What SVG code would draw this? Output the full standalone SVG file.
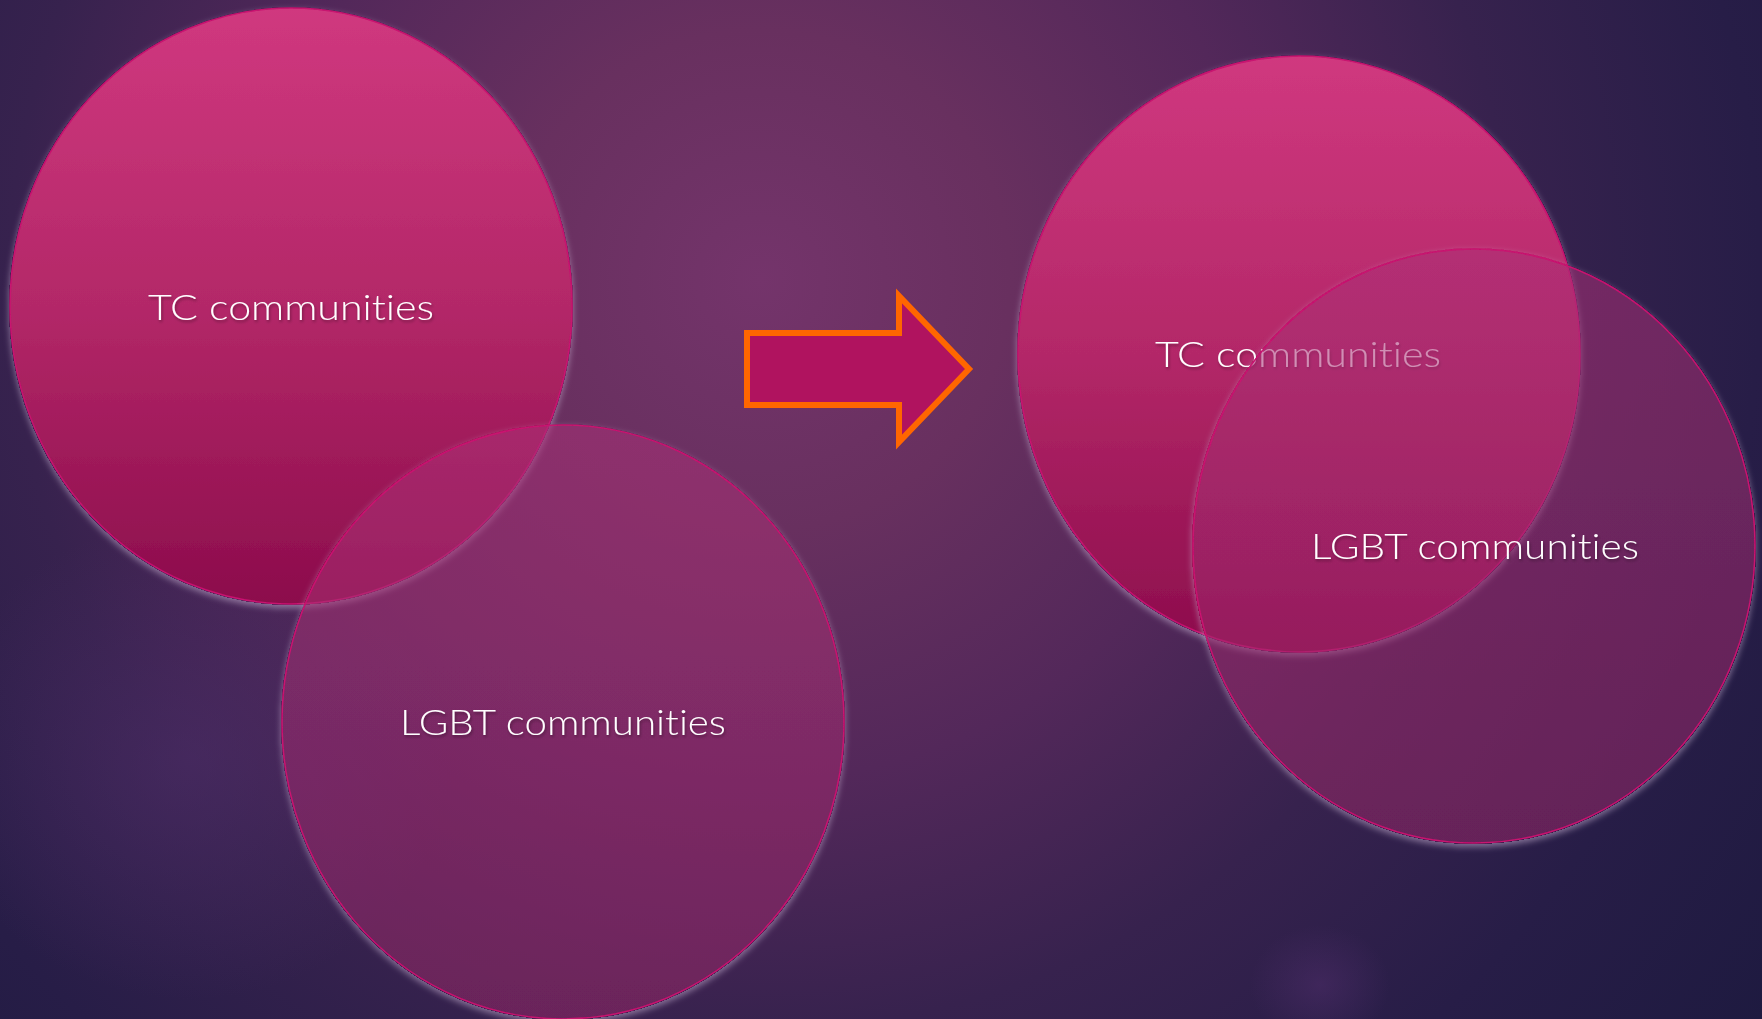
<svg xmlns="http://www.w3.org/2000/svg" width="1762" height="1019" viewBox="0 0 1762 1019">
  <defs>
    <radialGradient id="bg" gradientUnits="userSpaceOnUse" cx="760" cy="280" r="1250">
      <stop offset="0" stop-color="#74346B"/>
      <stop offset="0.2" stop-color="#68305F"/>
      <stop offset="0.4" stop-color="#53285A"/>
      <stop offset="0.6" stop-color="#37224E"/>
      <stop offset="0.8" stop-color="#271D47"/>
      <stop offset="1" stop-color="#1E1A40"/>
    </radialGradient>
    <radialGradient id="bokeh">
      <stop offset="0" stop-color="#553070" stop-opacity="0.45"/>
      <stop offset="1" stop-color="#553070" stop-opacity="0"/>
    </radialGradient>
    <linearGradient id="tcFill" x1="0" y1="0" x2="0" y2="1">
      <stop offset="0" stop-color="#D0387F"/>
      <stop offset="0.5" stop-color="#B32868"/>
      <stop offset="1" stop-color="#8C0C4C"/>
    </linearGradient>
    <linearGradient id="lgbtFill" x1="0" y1="0" x2="0" y2="1">
      <stop offset="0" stop-color="#AC3278"/>
      <stop offset="1" stop-color="#962466"/>
    </linearGradient>
    <!-- light halo around the discs, kept outside the shape and weighted downward -->
    <filter id="halo" x="-10%" y="-10%" width="120%" height="120%">
      <feColorMatrix in="SourceAlpha" type="matrix" values="0 0 0 0 0  0 0 0 0 0  0 0 0 0 0  0 0 0 20 0" result="solid"/>
      <feGaussianBlur in="solid" stdDeviation="3"/>
      <feOffset dy="3" result="blur"/>
      <feFlood flood-color="#C9B3D3" flood-opacity="0.55"/>
      <feComposite in2="blur" operator="in"/>
      <feComposite in2="solid" operator="out" result="ring"/>
      <feMerge>
        <feMergeNode in="ring"/>
        <feMergeNode in="SourceGraphic"/>
      </feMerge>
    </filter>
    <filter id="textShadow" x="-10%" y="-30%" width="120%" height="160%">
      <feDropShadow dx="1" dy="2" stdDeviation="1.5" flood-color="#000000" flood-opacity="0.35"/>
    </filter>
  </defs>
  <style>
    .tc { fill: url(#tcFill); stroke: #C8126F; stroke-width: 1.6; filter: url(#halo); }
    .lgbt { fill: url(#lgbtFill); fill-opacity: 0.54; stroke: #C8126F; stroke-width: 1.6; filter: url(#halo); }
    .label { font-family: "Lato", "Liberation Sans", sans-serif; font-weight: 300; font-size: 36px; fill: #FFFFFF; text-anchor: middle; font-variant-ligatures: none; filter: url(#textShadow); }
    .arrow { fill: #B0135F; stroke: #FF6600; stroke-width: 6; stroke-linejoin: miter; stroke-miterlimit: 10; }
  </style>

  <!-- background -->
  <rect x="0" y="0" width="1762" height="1019" fill="url(#bg)"/>
  <ellipse cx="190" cy="760" rx="260" ry="240" fill="url(#bokeh)"/>
  <ellipse cx="1320" cy="985" rx="70" ry="60" fill="url(#bokeh)"/>

  <!-- before: two separate groups touching -->
  <g id="tc-left">
    <ellipse class="tc" cx="291" cy="306" rx="281" ry="298"/>
    <text class="label" x="291" y="320" textLength="286" lengthAdjust="spacingAndGlyphs">TC communities</text>
  </g>
  <g id="lgbt-left">
    <ellipse class="lgbt" cx="563" cy="722" rx="281" ry="297"/>
    <text class="label" x="563" y="735" textLength="326" lengthAdjust="spacingAndGlyphs">LGBT communities</text>
  </g>

  <!-- transition arrow -->
  <g id="connectors">
    <path class="arrow" d="M747,333 L899,333 L899,296 L969,369 L899,442 L899,405 L747,405 Z"/>
  </g>

  <!-- after: overlapping groups -->
  <g id="tc-right">
    <ellipse class="tc" cx="1299" cy="354" rx="281" ry="298"/>
    <text class="label" x="1298" y="367" textLength="286" lengthAdjust="spacingAndGlyphs">TC communities</text>
  </g>
  <g id="lgbt-right">
    <ellipse class="lgbt" cx="1474" cy="546" rx="281" ry="297"/>
    <text class="label" x="1475" y="559" textLength="328" lengthAdjust="spacingAndGlyphs">LGBT communities</text>
  </g>
</svg>
